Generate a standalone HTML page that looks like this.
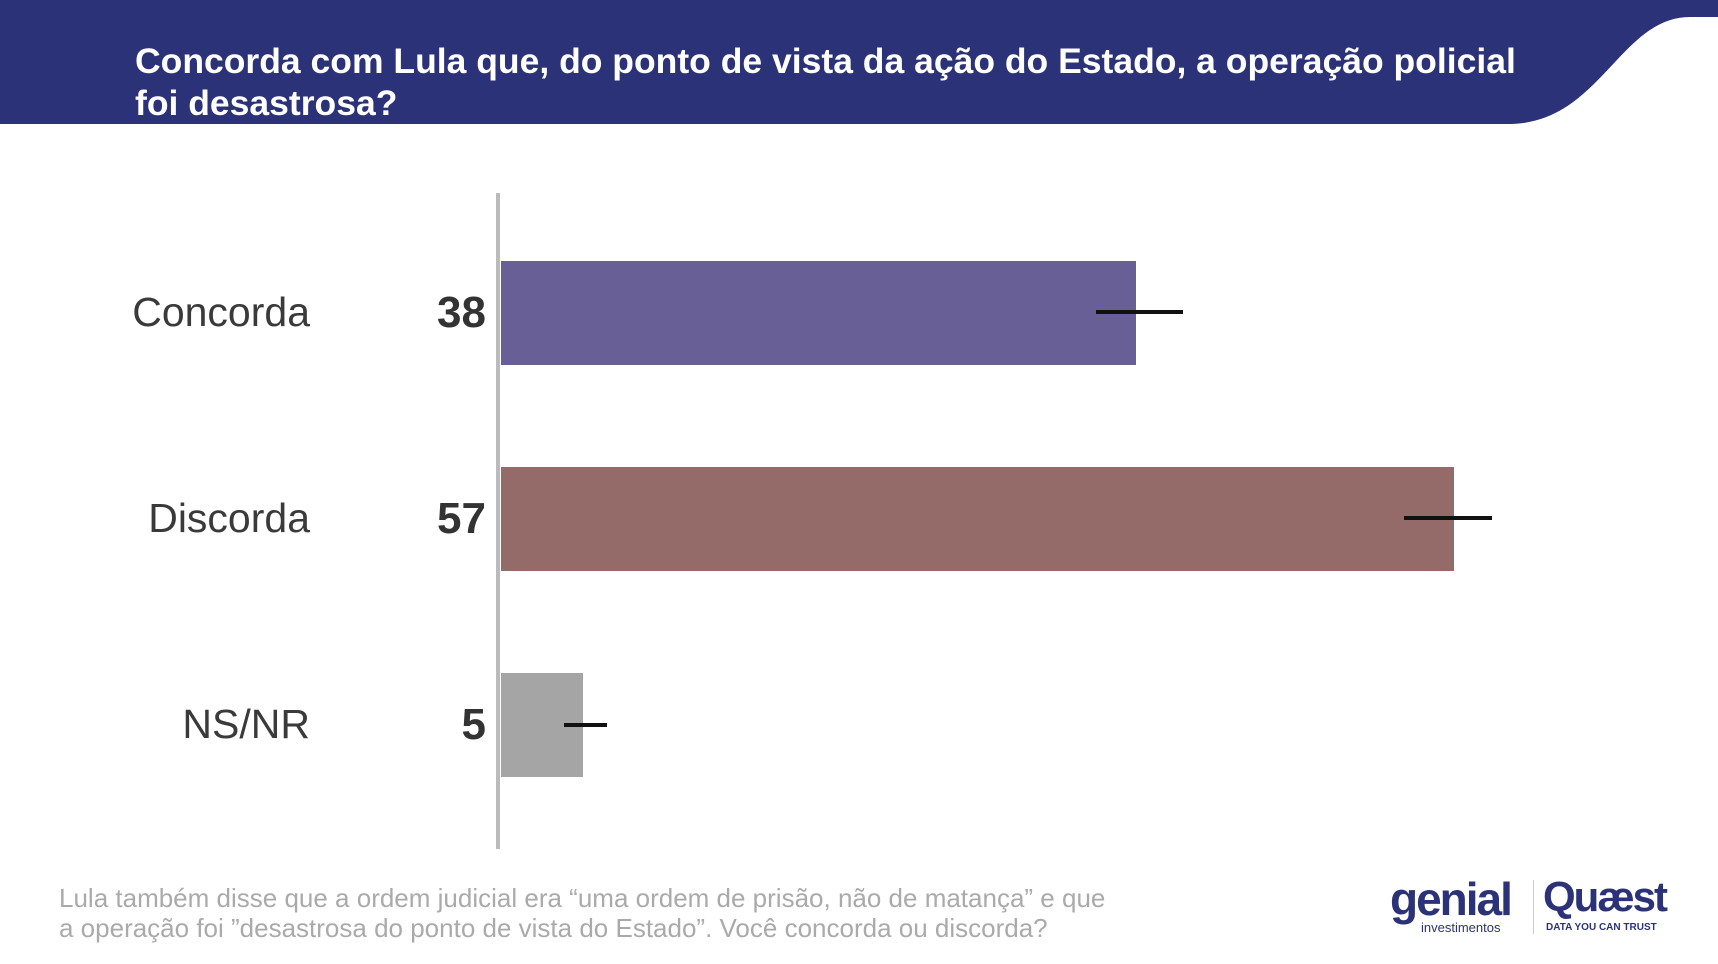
<!DOCTYPE html>
<html><head><meta charset="utf-8"><style>
body{margin:0;width:1718px;height:964px;background:#fff;position:relative;overflow:hidden;font-family:"Liberation Sans",sans-serif}
.a{position:absolute}
.lab{position:absolute;right:1408px;font-size:41px;color:#3a3a3a;font-weight:300;line-height:1}
.val{position:absolute;right:1232px;font-size:44px;color:#333;font-weight:bold;line-height:1}
.eb{position:absolute;height:4px;background:#111}
</style></head><body>
<svg class="a" style="left:0;top:0" width="1718" height="130">
<path d="M0 0 H1718 V17 H1690 C1620 17 1600 123 1510 124 H0 Z" fill="#2b3277"/>
</svg>
<div class="a" style="left:135px;top:40px;color:#fff;font-weight:bold;font-size:35.5px;line-height:42px;">Concorda com Lula que, do ponto de vista da ação do Estado, a operação policial<br>foi desastrosa?</div>
<div class="a" style="left:496px;top:193px;width:4px;height:656px;background:#bbb"></div>
<div class="a" style="left:501px;top:261px;width:635px;height:104px;background:#675f96"></div>
<div class="a" style="left:501px;top:467px;width:953px;height:104px;background:#946b68"></div>
<div class="a" style="left:501px;top:673px;width:82px;height:104px;background:#a5a5a5"></div>
<div class="eb" style="left:1096px;top:310px;width:87px"></div>
<div class="eb" style="left:1404px;top:516px;width:88px"></div>
<div class="eb" style="left:564px;top:723px;width:43px"></div>
<div class="lab" style="top:292px">Concorda</div>
<div class="lab" style="top:498px">Discorda</div>
<div class="lab" style="top:704px">NS/NR</div>
<div class="val" style="top:291px">38</div>
<div class="val" style="top:497px">57</div>
<div class="val" style="top:703px">5</div>
<div class="a" style="left:59px;top:883px;font-size:26px;line-height:30px;color:#aaa;font-weight:300">Lula também disse que a ordem judicial era “uma ordem de prisão, não de matança” e que<br>a operação foi ”desastrosa do ponto de vista do Estado”. Você concorda ou discorda?</div>
<div class="a" style="left:1390px;top:876px;font-size:46px;font-weight:bold;color:#2b3277;letter-spacing:-2px;line-height:1">genial</div>
<div class="a" style="left:1421px;top:921px;font-size:13px;color:#2b3277;line-height:1">investimentos</div>
<div class="a" style="left:1533px;top:880px;width:1px;height:54px;background:#ccd"></div>
<div class="a" style="left:1543px;top:876px;font-size:42px;font-weight:bold;color:#2b3277;letter-spacing:-2px;line-height:1">Quæst</div>
<div class="a" style="left:1546px;top:923px;font-size:10px;font-weight:bold;color:#2b3277;line-height:1">DATA YOU CAN TRUST</div>
</body></html>
